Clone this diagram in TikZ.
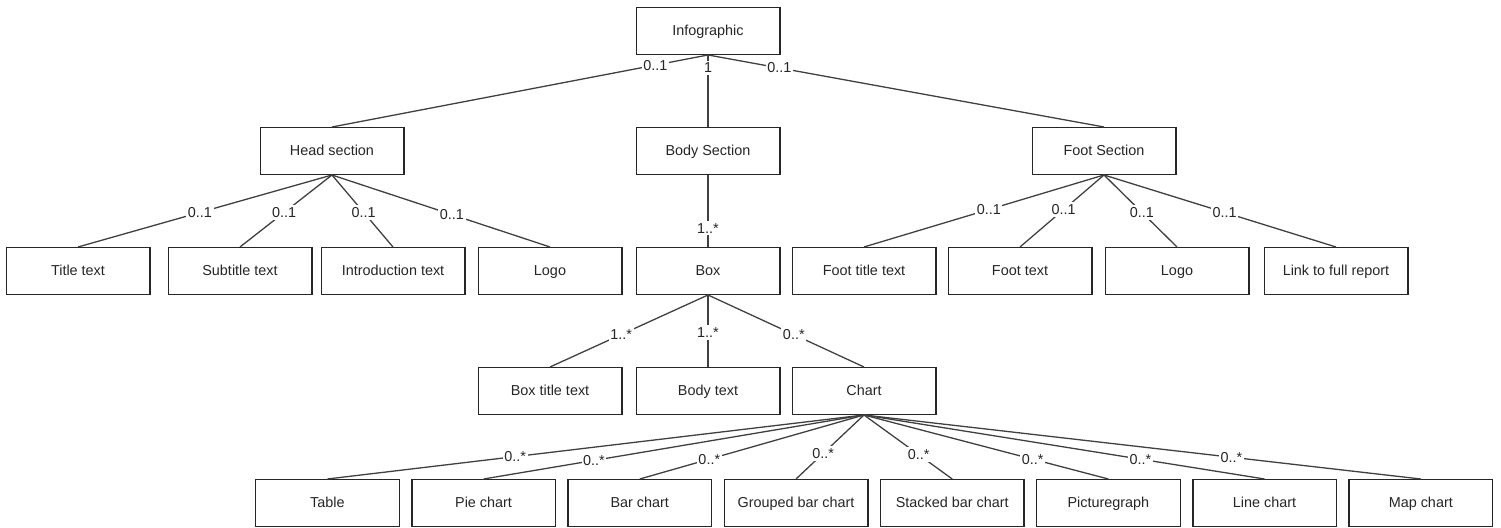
\documentclass[tikz,border=0pt]{standalone}
\usepackage{fontspec}
\setmainfont{Liberation Sans}
\usetikzlibrary{positioning}

\begin{document}
\begin{tikzpicture}[
  x=0.5pt, y=-0.5pt,
  cls/.style={draw=black!85, line width=0.7pt, fill=white, minimum width=71.8pt, minimum height=23.3pt, inner sep=0pt, text height=5.2pt, text depth=0.2pt, font=\fontsize{7.2}{9}\selectfont, text=black!85},
  link/.style={draw=black!75, line width=0.65pt},
  mult/.style={fill=white, inner sep=0.8pt, text height=5.3pt, text depth=0.3pt, font=\fontsize{7.2}{9}\selectfont, text=black!85}
]
\useasboundingbox (0,0) rectangle (1501,528);

% top levels
\node[cls] (inf) at (708,31) {Infographic};
\node[cls, below=36pt of inf] (body) {Body Section};
\node[cls, left=115.5pt of body] (head) {Head section};
\node[cls, right=125.5pt of body] (foot) {Foot Section};
\node[cls, below=36pt of body] (box) {Box};

% head parts
\node[cls, left=6.5pt of box] (hlogo) {Logo};
\node[cls, left=6pt of hlogo] (intro) {Introduction text};
\node[cls, left=4pt of intro] (subtitle) {Subtitle text};
\node[cls, left=8.5pt of subtitle] (title) {Title text};

% foot parts
\node[cls, right=5.5pt of box] (ftitle) {Foot title text};
\node[cls, right=5.5pt of ftitle] (ftext) {Foot text};
\node[cls, right=6pt of ftext] (flogo) {Logo};
\node[cls, right=7pt of flogo] (report) {Link to full report};

% box parts
\node[cls, below=36pt of box] (btext) {Body text};
\node[cls, left=6.5pt of btext] (btitle) {Box title text};
\node[cls, right=5.5pt of btext] (chart) {Chart};

% chart kinds
\node[cls, below=32pt of chart, xshift=-34pt] (grouped) {Grouped bar chart};
\node[cls, left=5.6pt of grouped] (bar) {Bar chart};
\node[cls, left=5.6pt of bar] (pie) {Pie chart};
\node[cls, left=5.6pt of pie] (table) {Table};
\node[cls, right=5.6pt of grouped] (stacked) {Stacked bar chart};
\node[cls, right=5.6pt of stacked] (picto) {Picturegraph};
\node[cls, right=5.6pt of picto] (line) {Line chart};
\node[cls, right=5.6pt of line] (map) {Map chart};

\draw[link] (inf.south) -- node[mult, pos=0.14] {0..1} (head.north);
\draw[link] (inf.south) -- node[mult, pos=0.18] {1} (body.north);
\draw[link] (inf.south) -- node[mult, pos=0.18] {0..1} (foot.north);

\draw[link] (head.south) -- node[mult, pos=0.52] {0..1} (title.north);
\draw[link] (head.south) -- node[mult, pos=0.52] {0..1} (subtitle.north);
\draw[link] (head.south) -- node[mult, pos=0.52] {0..1} (intro.north);
\draw[link] (head.south) -- node[mult, pos=0.55] {0..1} (hlogo.north);

\draw[link] (body.south) -- node[mult, pos=0.74] {1..*} (box.north);

\draw[link] (foot.south) -- node[mult, pos=0.48] {0..1} (ftitle.north);
\draw[link] (foot.south) -- node[mult, pos=0.48] {0..1} (ftext.north);
\draw[link] (foot.south) -- node[mult, pos=0.52] {0..1} (flogo.north);
\draw[link] (foot.south) -- node[mult, pos=0.52] {0..1} (report.north);

\draw[link] (box.south) -- node[mult, pos=0.55] {1..*} (btitle.north);
\draw[link] (box.south) -- node[mult, pos=0.52] {1..*} (btext.north);
\draw[link] (box.south) -- node[mult, pos=0.55] {0..*} (chart.north);

\draw[link] (chart.south) -- node[mult, pos=0.65] {0..*} (table.north);
\draw[link] (chart.south) -- node[mult, pos=0.71] {0..*} (pie.north);
\draw[link] (chart.south) -- node[mult, pos=0.69] {0..*} (bar.north);
\draw[link] (chart.south) -- node[mult, pos=0.6] {0..*} (grouped.north);
\draw[link] (chart.south) -- node[mult, pos=0.62] {0..*} (stacked.north);
\draw[link] (chart.south) -- node[mult, pos=0.69] {0..*} (picto.north);
\draw[link] (chart.south) -- node[mult, pos=0.69] {0..*} (line.north);
\draw[link] (chart.south) -- node[mult, pos=0.66] {0..*} (map.north);
\end{tikzpicture}
\end{document}
